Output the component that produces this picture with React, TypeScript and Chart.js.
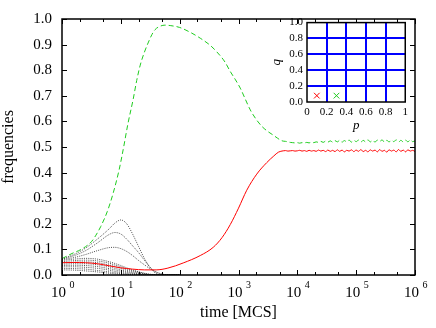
import React, { useEffect, useRef } from "react";
import { Chart, registerables } from "chart.js";

Chart.register(...registerables);

const FONT = '"Liberation Serif", "Times New Roman", Times, serif';
const GREEN = "#1ecc1e";
const RED = "#ff0000";
const DOT = "#222222";

// ---------- main chart data (time given as log10 of MCS) ----------
const xDecadeExponents = [0, 1, 2, 3, 4, 5, 6];
const xMinorMultipliers = [2, 5];
const yTickValues = [0, 0.1, 0.2, 0.3, 0.4, 0.5, 0.6, 0.7, 0.8, 0.9, 1.0];

const greenLogT = [
  0, 0.17, 0.34, 0.5, 0.57, 0.66, 0.77, 0.87, 0.97, 1.04, 1.12, 1.21, 1.27, 1.33, 1.4, 1.47, 1.53, 1.58, 1.65, 1.75,
  1.85, 2.0, 2.18, 2.35, 2.52, 2.63, 2.77, 2.86, 2.95, 3.03, 3.1, 3.2, 3.31, 3.4, 3.49, 3.58, 3.66, 3.72, 3.76,
  3.8, 3.84, 3.88, 3.92, 3.96, 4.0, 4.04, 4.08, 4.12, 4.16, 4.2, 4.24, 4.28, 4.32, 4.36, 4.4, 4.44, 4.48, 4.52, 4.56,
  4.6, 4.64, 4.68, 4.72, 4.76, 4.8, 4.84, 4.88, 4.92, 4.96, 5.0, 5.04, 5.08, 5.12, 5.16, 5.2, 5.24, 5.28, 5.32, 5.36,
  5.4, 5.44, 5.48, 5.52, 5.56, 5.6, 5.64, 5.68, 5.72, 5.76, 5.8, 5.84, 5.88, 5.92, 5.96, 6.0,
];
const greenFreq = [
  0.064, 0.084, 0.102, 0.13, 0.153, 0.19, 0.248, 0.32, 0.41, 0.49, 0.59, 0.687, 0.76, 0.82, 0.87, 0.91, 0.94, 0.958, 0.97, 0.976,
  0.974, 0.967, 0.948, 0.925, 0.897, 0.872, 0.832, 0.795, 0.762, 0.73, 0.695, 0.645, 0.605, 0.58, 0.562, 0.548, 0.535, 0.526, 0.523,
  0.522, 0.52, 0.518, 0.517, 0.516, 0.517, 0.515, 0.517, 0.516, 0.518, 0.516, 0.519, 0.517, 0.52, 0.518, 0.522, 0.518, 0.523, 0.519, 0.524,
  0.519, 0.525, 0.52, 0.526, 0.519, 0.525, 0.52, 0.527, 0.519, 0.526, 0.521, 0.527, 0.519, 0.526, 0.52, 0.528, 0.52, 0.526, 0.519, 0.527,
  0.521, 0.528, 0.519, 0.526, 0.52, 0.527, 0.521, 0.528, 0.519, 0.526, 0.52, 0.527, 0.52, 0.528, 0.521, 0.524,
];

const redLogT = [
  0, 0.2, 0.4, 0.6, 0.8, 1.0, 1.2, 1.4, 1.6, 1.8, 2.06, 2.35, 2.57, 2.72, 2.86, 3.0, 3.14, 3.31, 3.48, 3.6, 3.68, 3.76,
  3.8, 3.84, 3.88, 3.92, 3.96, 4.0, 4.04, 4.08, 4.12, 4.16, 4.2, 4.24, 4.28, 4.32, 4.36, 4.4, 4.44, 4.48, 4.52, 4.56,
  4.6, 4.64, 4.68, 4.72, 4.76, 4.8, 4.84, 4.88, 4.92, 4.96, 5.0, 5.04, 5.08, 5.12, 5.16, 5.2, 5.24, 5.28, 5.32, 5.36,
  5.4, 5.44, 5.48, 5.52, 5.56, 5.6, 5.64, 5.68, 5.72, 5.76, 5.8, 5.84, 5.88, 5.92, 5.96, 6.0,
];
const redFreq = [
  0.048, 0.049, 0.048, 0.044, 0.036, 0.028, 0.023, 0.02, 0.02, 0.027, 0.047, 0.076, 0.108, 0.146, 0.197, 0.261, 0.331, 0.394, 0.439, 0.465, 0.48, 0.485,
  0.486, 0.484, 0.485, 0.486, 0.484, 0.485, 0.487, 0.484, 0.486, 0.483, 0.487, 0.484, 0.486, 0.483, 0.488, 0.484, 0.487, 0.482, 0.488, 0.483,
  0.487, 0.482, 0.489, 0.483, 0.488, 0.481, 0.487, 0.484, 0.489, 0.482, 0.488, 0.483, 0.49, 0.482, 0.487, 0.481, 0.489, 0.484, 0.488, 0.481,
  0.49, 0.483, 0.487, 0.48, 0.489, 0.484, 0.488, 0.481, 0.49, 0.483, 0.488, 0.481, 0.489, 0.484, 0.487, 0.482,
];

// other (dotted) strategies
const dotLogT = [0, 0.2, 0.4, 0.6, 0.8, 0.9, 1.0, 1.1, 1.2, 1.3, 1.4, 1.5, 1.6, 1.7, 1.8, 2.0];
const dot1 = [0.064, 0.08, 0.105, 0.14, 0.18, 0.203, 0.215, 0.2, 0.16, 0.112, 0.065, 0.028, 0.006, 0, 0, 0];
const dot2 = [0.062, 0.075, 0.095, 0.125, 0.158, 0.166, 0.16, 0.14, 0.114, 0.088, 0.058, 0.03, 0.011, 0.002, 0, 0];
const dot3 = [0.06, 0.068, 0.08, 0.095, 0.107, 0.108, 0.103, 0.092, 0.076, 0.057, 0.04, 0.024, 0.012, 0.004, 0, 0];
const dot4 = [0.057, 0.062, 0.065, 0.062, 0.052, 0.045, 0.037, 0.028, 0.02, 0.013, 0.007, 0.003, 0.001, 0, 0, 0];
const dot5 = [0.052, 0.056, 0.058, 0.055, 0.046, 0.039, 0.032, 0.024, 0.017, 0.011, 0.006, 0.002, 0, 0, 0, 0];
const dot6 = [0.047, 0.05, 0.051, 0.048, 0.039, 0.033, 0.026, 0.019, 0.013, 0.008, 0.004, 0.001, 0, 0, 0, 0];
const dot7 = [0.042, 0.044, 0.044, 0.04, 0.032, 0.026, 0.02, 0.014, 0.009, 0.005, 0.002, 0, 0, 0, 0, 0];
const dot8 = [0.037, 0.038, 0.037, 0.033, 0.025, 0.02, 0.015, 0.01, 0.006, 0.003, 0.001, 0, 0, 0, 0, 0];
const dot9 = [0.032, 0.032, 0.03, 0.026, 0.019, 0.014, 0.01, 0.006, 0.003, 0.001, 0, 0, 0, 0, 0, 0];
const dot10 = [0.026, 0.025, 0.023, 0.018, 0.012, 0.009, 0.006, 0.003, 0.001, 0, 0, 0, 0, 0, 0, 0];
const dot11 = [0.02, 0.019, 0.016, 0.012, 0.007, 0.005, 0.003, 0.001, 0, 0, 0, 0, 0, 0, 0, 0];
const dotSeries = [dot1, dot2, dot3, dot4, dot5, dot6, dot7, dot8, dot9, dot10, dot11];

// ---------- inset data ----------
const insetTicks = [0, 0.2, 0.4, 0.6, 0.8, 1];
const insetRedP = [0.1];
const insetRedQ = [0.08];
const insetGreenP = [0.3];
const insetGreenQ = [0.08];

const toPoints = (logT: number[], vals: number[]) => logT.map((e, i) => ({ x: Math.pow(10, e), y: vals[i] }));

const mainPlugin = {
  id: "mainFrame",
  afterDraw(chart: any) {
    const { ctx, chartArea: a, scales } = chart;
    const xs = scales.x;
    const ys = scales.y;
    ctx.save();
    ctx.strokeStyle = "#000";
    ctx.lineWidth = 1;
    ctx.beginPath();
    xDecadeExponents.forEach((e) => {
      const px = Math.round(xs.getPixelForValue(Math.pow(10, e))) + 0.5;
      ctx.moveTo(px, a.bottom);
      ctx.lineTo(px, a.bottom - 5);
      ctx.moveTo(px, a.top);
      ctx.lineTo(px, a.top + 5);
      if (e < xDecadeExponents[xDecadeExponents.length - 1]) {
        xMinorMultipliers.forEach((m) => {
          const mx = Math.round(xs.getPixelForValue(m * Math.pow(10, e))) + 0.5;
          ctx.moveTo(mx, a.bottom);
          ctx.lineTo(mx, a.bottom - 3);
          ctx.moveTo(mx, a.top);
          ctx.lineTo(mx, a.top + 3);
        });
      }
    });
    yTickValues.forEach((v) => {
      const py = Math.round(ys.getPixelForValue(v)) + 0.5;
      ctx.moveTo(a.left, py);
      ctx.lineTo(a.left + 5, py);
      ctx.moveTo(a.right, py);
      ctx.lineTo(a.right - 5, py);
    });
    ctx.stroke();
    ctx.lineWidth = 1.5;
    ctx.strokeRect(a.left, a.top, a.right - a.left, a.bottom - a.top);

    // x tick labels 10^n
    ctx.fillStyle = "#000";
    ctx.textBaseline = "alphabetic";
    xDecadeExponents.forEach((e) => {
      const px = xs.getPixelForValue(Math.pow(10, e));
      ctx.font = `15px ${FONT}`;
      ctx.textAlign = "right";
      ctx.fillText("10", px + 4, a.bottom + 22);
      ctx.font = `10px ${FONT}`;
      ctx.textAlign = "left";
      ctx.fillText(String(e), px + 7.5, a.bottom + 13);
    });

    // axis titles
    ctx.font = `16px ${FONT}`;
    ctx.textAlign = "center";
    ctx.textBaseline = "middle";
    ctx.fillText("time [MCS]", (a.left + a.right) / 2, 313);
    ctx.save();
    ctx.translate(9, (a.top + a.bottom) / 2);
    ctx.rotate(-Math.PI / 2);
    ctx.fillText("frequencies", 0, 0);
    ctx.restore();
    ctx.restore();
  },
};

const insetPlugin = {
  id: "insetFrame",
  beforeDraw(chart: any) {
    const { ctx, chartArea: a } = chart;
    ctx.save();
    ctx.fillStyle = "#fff";
    ctx.fillRect(a.left, a.top, a.right - a.left, a.bottom - a.top);
    ctx.restore();
  },
  afterDraw(chart: any) {
    const { ctx, chartArea: a } = chart;
    ctx.save();
    ctx.strokeStyle = "#000";
    ctx.lineWidth = 1.5;
    ctx.strokeRect(a.left, a.top, a.right - a.left, a.bottom - a.top);
    ctx.fillStyle = "#000";
    ctx.font = `italic 13px ${FONT}`;
    ctx.textAlign = "center";
    ctx.textBaseline = "middle";
    ctx.fillText("p", (a.left + a.right) / 2, a.bottom + 24);
    ctx.translate(9, (a.top + a.bottom) / 2);
    ctx.rotate(-Math.PI / 2);
    ctx.fillText("q", 0, 0);
    ctx.restore();
  },
};

const insetGridColor = (c: any) =>
  c.tick && (c.tick.value === 0 || c.tick.value === 1) ? "rgba(0,0,0,0)" : "#0000ff";

export default function App() {
  const mainRef = useRef<HTMLCanvasElement>(null);
  const insetRef = useRef<HTMLCanvasElement>(null);

  useEffect(() => {
    Chart.defaults.font.family = FONT;
    const datasets: any[] = [
      {
        data: toPoints(greenLogT, greenFreq),
        borderColor: GREEN,
        borderWidth: 1,
        borderDash: [5, 3],
        pointRadius: 0,
        cubicInterpolationMode: "monotone",
      },
      {
        data: toPoints(redLogT, redFreq),
        borderColor: RED,
        borderWidth: 1,
        pointRadius: 0,
        cubicInterpolationMode: "monotone",
      },
      ...dotSeries.map((s) => ({
        data: toPoints(dotLogT, s),
        borderColor: DOT,
        borderWidth: 0.8,
        borderDash: [1, 1.2],
        pointRadius: 0,
        cubicInterpolationMode: "monotone",
      })),
    ];

    const main = new Chart(mainRef.current as HTMLCanvasElement, {
      type: "line",
      data: { datasets },
      options: {
        animation: false,
        responsive: false,
        devicePixelRatio: 1,
        layout: { padding: { top: 13, right: 21, left: 0, bottom: 0 } },
        plugins: { legend: { display: false }, tooltip: { enabled: false } },
        scales: {
          x: {
            type: "logarithmic",
            min: 1,
            max: 1e6,
            grid: { display: false, drawTicks: false },
            border: { display: false },
            ticks: { display: false },
            afterFit: (s: any) => {
              s.height = 53;
            },
          },
          y: {
            type: "linear",
            min: 0,
            max: 1,
            afterBuildTicks: (s: any) => {
              s.ticks = yTickValues.map((v) => ({ value: v }));
            },
            grid: { display: false, drawTicks: false },
            border: { display: false },
            ticks: {
              autoSkip: false,
              padding: 10,
              color: "#000",
              font: { size: 15, family: FONT },
              callback: (v: any) => Number(v).toFixed(1),
            },
            afterFit: (s: any) => {
              s.width = 62;
            },
          },
        },
      } as any,
      plugins: [mainPlugin],
    });

    const inset = new Chart(insetRef.current as HTMLCanvasElement, {
      type: "scatter",
      data: {
        datasets: [
          {
            data: insetRedP.map((p, i) => ({ x: p, y: insetRedQ[i] })),
            pointStyle: "crossRot",
            pointRadius: 4,
            borderColor: RED,
            borderWidth: 1,
          },
          {
            data: insetGreenP.map((p, i) => ({ x: p, y: insetGreenQ[i] })),
            pointStyle: "crossRot",
            pointRadius: 4,
            borderColor: GREEN,
            borderWidth: 1,
          },
        ],
      },
      options: {
        animation: false,
        responsive: false,
        devicePixelRatio: 1,
        layout: { padding: { top: 7, right: 6, left: 0, bottom: 0 } },
        plugins: { legend: { display: false }, tooltip: { enabled: false } },
        scales: {
          x: {
            type: "linear",
            min: 0,
            max: 1,
            afterBuildTicks: (s: any) => {
              s.ticks = insetTicks.map((v) => ({ value: v }));
            },
            grid: { drawTicks: false, lineWidth: 2, color: insetGridColor },
            border: { display: false },
            ticks: {
              autoSkip: false,
              maxRotation: 0,
              padding: 4,
              color: "#000",
              font: { size: 11, family: FONT },
              callback: (v: any) => String(Number(v)),
            },
            afterFit: (s: any) => {
              s.height = 34;
            },
          },
          y: {
            type: "linear",
            min: 0,
            max: 1,
            afterBuildTicks: (s: any) => {
              s.ticks = insetTicks.map((v) => ({ value: v }));
            },
            grid: { drawTicks: false, lineWidth: 2, color: insetGridColor },
            border: { display: false },
            ticks: {
              autoSkip: false,
              padding: 4,
              color: "#000",
              font: { size: 11, family: FONT },
              callback: (v: any) => Number(v).toFixed(1),
            },
            afterFit: (s: any) => {
              s.width = 39;
            },
          },
        },
      } as any,
      plugins: [insetPlugin],
    });

    return () => {
      main.destroy();
      inset.destroy();
    };
  }, []);

  return (
    <div style={{ position: "fixed", left: 0, top: 0, width: 436, height: 328, background: "#fff" }}>
      <canvas
        ref={mainRef}
        width={436}
        height={328}
        style={{ position: "absolute", left: 0, top: 0, width: 436, height: 328 }}
      />
      <canvas
        ref={insetRef}
        width={144}
        height={124}
        style={{ position: "absolute", left: 268, top: 12, width: 144, height: 124 }}
      />
    </div>
  );
}
